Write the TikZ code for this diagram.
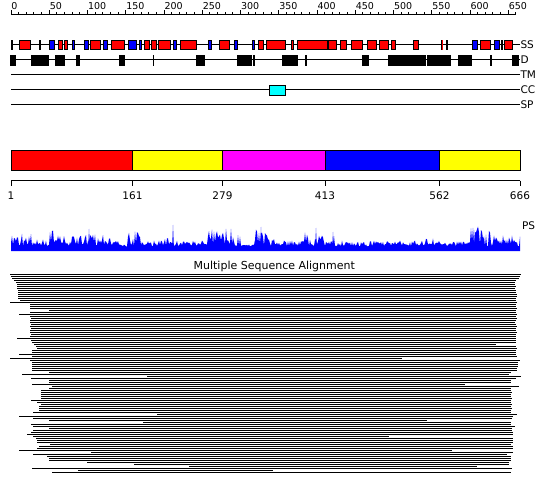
\documentclass[tikz,border=0pt]{standalone}
\usepackage{fontspec}
\setmainfont{DejaVu Sans}
\definecolor{hxred}{RGB}{255,0,0}
\definecolor{stblue}{RGB}{0,0,255}
\definecolor{ccyan}{RGB}{0,255,255}
\definecolor{dyellow}{RGB}{255,255,0}
\definecolor{dmagenta}{RGB}{255,0,255}
\begin{document}
\begin{tikzpicture}[x=1pt, y=-1pt, line width=1pt,
  featbox/.style={draw=black, fill=#1},
  tag/.style={anchor=west, inner sep=0pt, font=\fontsize{10.5}{12}\selectfont},
  num/.style={inner sep=0pt, font=\fontsize{10.5}{12}\selectfont}]
\useasboundingbox (0,0) rectangle (550,495);

% ruler
\draw (11,15) -- (516,15);
\foreach \k in {0,...,66} \draw ({11+7.65*\k},15) -- ({11+7.65*\k},12.5);
\foreach \v [count=\i from 0] in {0,50,...,650} {
  \draw ({11+38.25*\i},15) -- ({11+38.25*\i},10.5);
  \node[anchor=south west, inner sep=0pt, font=\fontsize{9.5}{11}\selectfont] (pos\v) at ({11+38.25*\i},9.8) {\v};
}

% SS
\draw (11,45) -- (520,45) node[tag] (ss) {SS};
\foreach \a/\b in {10.7/13.3, 19.3/30.7, 58.3/62.7, 64.3/68.3, 90.3/100.7, 111.3/124.7, 144.3/149.7, 150.7/156.7, 157.7/170.7, 180/196.7, 219.3/230.3, 258.3/263.7, 266.3/285.7, 291.3/294.3, 297.3/327.7, 327.7/336.7, 340.3/346.7, 351.3/363.3, 367.3/377.3, 379/389.3, 391/395.7, 413.3/419.3, 441/442.2, 446.3/448.3, 480.3/491, 503.5/512.5}
  \draw[featbox=hxred] ({\a+0.5},40.5) rectangle ({\b-0.5},49.7);
\foreach \a/\b in {39.3/41.3, 49.3/54.7, 71.7/75.3, 84.3/88.7, 103.3/108.3, 127.7/137.3, 139/142.3, 173.3/176.7, 208/212.3, 234.3/238.3, 252.3/255.3, 472.3/478.3, 494.3/500, 500.8/503}
  \draw[featbox=stblue] ({\a+0.5},40.5) rectangle ({\b-0.5},49.7);

% D
\draw (11,60) -- (520,60) node[tag] (d) {D};
\foreach \a/\b in {10/15.7, 31/48.7, 55/64.7, 76/79.7, 119/124.7, 153/153.8, 196/204.7, 237.3/251.7, 253/254.7, 282.3/297.7, 305.3/306.7, 362/369, 388.3/425.7, 427/451, 458.3/471.7, 490.3/491.7, 511.5/519.3}
  \draw[featbox=black] ({\a+0.5},55.5) rectangle ({\b-0.5},65.2);

% TM, CC, SP
\draw (11,75) -- (520,75) node[tag] (tm) {TM};
\draw (11,90) -- (520,90) node[tag] (cc) {CC};
\draw[featbox=ccyan] (269.5,85.5) rectangle (285.2,95.2);
\draw (11,105) -- (520,105) node[tag] (sp) {SP};

% domains
\foreach \a/\b/\c in {11/132.5/hxred, 132.5/222.5/dyellow, 222.5/325/dmagenta, 325/439.5/stblue, 439.5/520/dyellow}
  \draw[featbox=\c] (\a,150.5) rectangle (\b,170.2);
\draw (11,180.7) -- (520,180.7);
\foreach \x/\v in {11/1, 132.5/161, 222.5/279, 325/413, 439.5/562, 520/666} {
  \draw (\x,180.7) -- (\x,186);
  \node[num, anchor=north] (dom\v) at (\x,191.6) {\v};
}

% PS
\pgfmathsetseed{42}
\fill[stblue] (11,251) \foreach \a/\b/\m in {11/20/11, 21/33/14, 34/46/7, 47/49/2, 50/54/16, 55/110/12, 111/119/8, 120/127/2, 128/140/15, 141/163/7, 164/168/12, 169/207/6, 208/240/18, 241/254/2, 255/267/18, 268/280/8, 281/302/6, 303/317/15, 318/337/11, 338/425/6, 426/443/8, 444/470/5, 471/490/20, 491/520/11} {\foreach \x in {\a,...,\b} {-- (\x,{246.5-\m*rnd})}} -- (520,251) -- cycle;
\fill[stblue] \foreach \x/\h in {89/22, 173/26, 261/24, 316/23, 333/19, 474/21, 478/23} {({\x-1},250) -- (\x,{251-\h}) -- ({\x+1},250) -- cycle};
\node[tag] (ps) at (521.5,226) {PS};

% alignment
\node[inner sep=0pt, anchor=base, font=\fontsize{11}{13}\selectfont] (msa) at (274.3,269.8) {Multiple Sequence Alignment};
\foreach \s/\e [count=\i from 0] in {10/521, 11/520, 12/519, 14/516, 16/515, 17/515, 17/516, 17/515, 18/516, 18/516,
  18/517, 18/517, 18/516, 20/516, 10/517, 30/516, 30/516, 30/517, 49/516, 30/516,
  19/517, 30/516, 31/517, 30/516, 30/515, 31/516, 30/517, 31/516, 30/516, 30/517,
  31/516, 30/516, 17/516, 31/516, 32/516, 34/496, 36/516, 37/517, 32/516, 32/516,
  19/516, 32/517, 10/402, 30/520, 32/518, 32/518, 32/518, 32/517, 32/517, 49/511,
  22/509, 147/521, 31/516, 49/511, 49/511, 32/465, 52/519, 49/511, 41/511, 41/512,
  41/511, 41/511, 41/512, 31/511, 37/511, 41/512, 39/511, 39/512, 39/511, 33/511,
  157/517, 19/513, 33/512, 49/427, 143/511, 31/511, 33/515, 49/512, 33/512, 31/513,
  27/513, 33/389, 36/513, 37/513, 37/513, 50/511, 39/513, 37/513, 19/452, 91/513,
  33/507, 47/511, 49/511, 49/511, 87/509, 134/509, 189/477, 32/512, 78/273, 52/511}
  \draw (\s,{274.5+2*\i}) -- (\e,{274.5+2*\i});
\end{tikzpicture}
\end{document}
